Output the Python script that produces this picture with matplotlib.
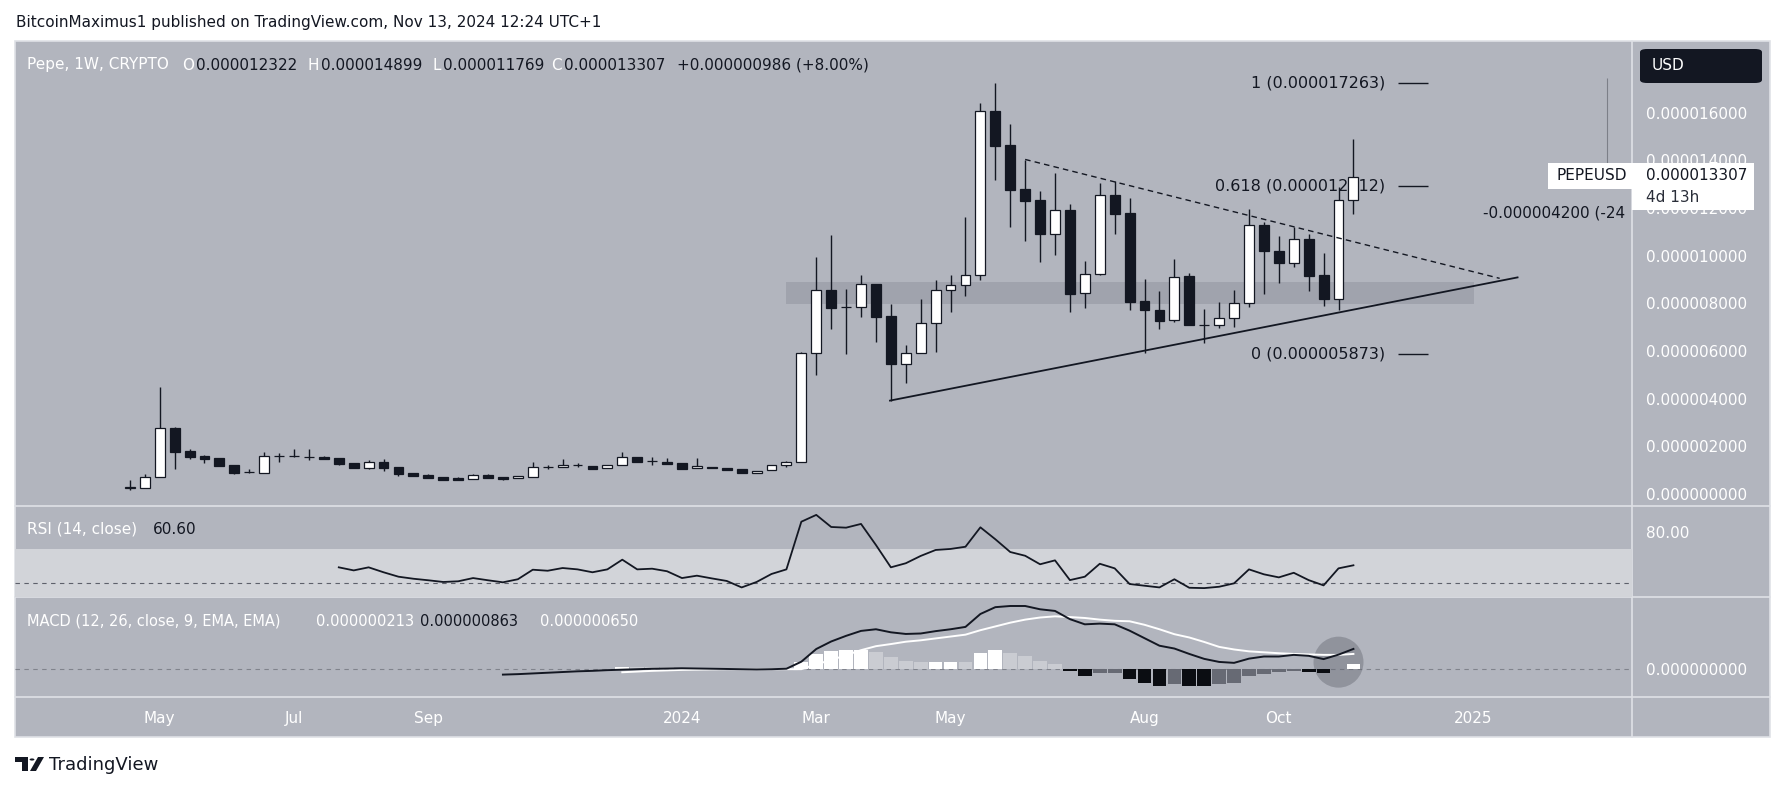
import numpy as np
import matplotlib
matplotlib.use("Agg")
import matplotlib.pyplot as plt
from matplotlib.patches import Rectangle, Ellipse, FancyBboxPatch, Polygon, Circle
from matplotlib.lines import Line2D

W, H = 1785, 791

# weekly candles, x = week index counted from the week of Jan 1 2024, prices in 1e-6 USD
weeks = np.arange(-37, 46)
opens = [0.27, 0.27, 0.70, 2.76, 1.80, 1.59, 1.50, 1.22, 0.91, 0.90,
         1.58, 1.58, 1.55, 1.54, 1.51, 1.30, 1.10, 1.34, 1.13, 0.88,
         0.80, 0.71, 0.68, 0.64, 0.78, 0.71, 0.66, 0.73, 1.12, 1.12,
         1.20, 1.17, 1.08, 1.20, 1.57, 1.38, 1.36,
         1.29, 1.08, 1.14, 1.09, 1.05, 0.87, 0.99, 1.20, 1.36, 5.90,
         8.56, 7.83, 7.83, 8.80, 7.47, 5.44, 5.93, 7.19, 8.55, 8.76,
         9.18, 16.07, 14.65, 12.79, 12.34, 10.92, 11.90, 8.42, 9.22, 12.53,
         11.78, 8.10, 7.72, 7.30, 9.15, 7.09, 7.08, 7.37, 8.00, 11.29,
         10.21, 9.68, 10.69, 9.19, 8.17, 12.322]
highs = [0.59, 0.84, 4.50, 2.80, 1.88, 1.65, 1.50, 1.22, 1.05, 1.76,
         1.72, 1.89, 1.89, 1.59, 1.51, 1.30, 1.43, 1.47, 1.13, 0.88,
         0.85, 0.71, 0.73, 0.84, 0.85, 0.71, 0.76, 1.34, 1.23, 1.47,
         1.30, 1.17, 1.20, 1.75, 1.57, 1.57, 1.51,
         1.29, 1.51, 1.14, 1.09, 1.05, 0.98, 1.20, 1.40, 5.95, 9.96,
         10.87, 8.60, 9.19, 8.80, 7.96, 6.25, 8.17, 8.98, 9.19, 11.64,
         16.42, 17.26, 15.53, 14.02, 12.73, 13.46, 12.17, 9.78, 13.04, 13.15,
         12.41, 9.01, 8.52, 9.85, 9.26, 7.76, 8.04, 8.56, 11.95, 11.42,
         10.83, 11.22, 10.91, 10.13, 12.87, 14.899]
lows = [0.17, 0.25, 0.70, 1.04, 1.48, 1.31, 1.19, 0.86, 0.87, 0.90,
        1.36, 1.54, 1.43, 1.48, 1.23, 1.10, 1.05, 0.98, 0.77, 0.77,
        0.69, 0.60, 0.60, 0.64, 0.69, 0.60, 0.66, 0.73, 1.04, 1.12,
        1.12, 1.06, 1.08, 1.20, 1.33, 1.20, 1.28,
        1.06, 1.08, 1.09, 0.99, 0.87, 0.87, 0.99, 1.15, 1.36, 4.99,
        6.91, 5.86, 7.41, 6.39, 3.92, 4.64, 5.93, 5.97, 7.62, 8.31,
        8.98, 13.18, 11.22, 10.62, 9.75, 10.03, 7.65, 7.79, 9.20, 10.90,
        7.72, 5.90, 6.91, 7.20, 7.09, 6.35, 6.98, 7.00, 7.84, 8.39,
        8.84, 9.54, 8.52, 7.89, 7.72, 11.769]
closes = [0.28, 0.70, 2.76, 1.78, 1.57, 1.48, 1.19, 0.90, 0.92, 1.58,
          1.58, 1.59, 1.54, 1.48, 1.27, 1.10, 1.34, 1.10, 0.85, 0.77,
          0.69, 0.60, 0.60, 0.78, 0.69, 0.64, 0.76, 1.12, 1.13, 1.20,
          1.20, 1.06, 1.20, 1.57, 1.33, 1.38, 1.28,
          1.06, 1.16, 1.09, 0.99, 0.87, 0.98, 1.20, 1.36, 5.90, 8.56,
          7.82, 7.84, 8.80, 7.44, 5.44, 5.93, 7.19, 8.56, 8.76, 9.18,
          16.07, 14.62, 12.76, 12.31, 10.92, 11.90, 8.41, 9.22, 12.53, 11.76,
          8.07, 7.71, 7.27, 9.12, 7.09, 7.10, 7.37, 8.00, 11.29, 10.21,
          9.68, 10.69, 9.16, 8.17, 12.32, 13.307]

rsi_weeks = np.arange(-23, 46)
rsi = [59.4, 57.6, 59.4, 56.5, 53.9, 52.7, 51.8, 50.8, 51.2, 53.1,
       51.8, 50.6, 52.4, 58.0, 57.4, 59.0, 58.2, 56.5, 58.2, 63.9,
       58.2, 58.6, 57.1, 53.1, 54.5, 52.9, 51.4, 47.6, 50.8, 55.5,
       58.2, 86.2, 90.2, 83.1, 82.7, 84.9, 72.5, 59.4, 61.8, 66.1,
       69.6, 70.2, 71.5, 82.9, 75.9, 68.4, 66.2, 61.2, 63.5, 51.9,
       53.9, 61.5, 58.8, 49.6, 48.6, 47.6, 52.4, 47.4, 47.2, 48.0,
       50.0, 58.2, 55.3, 53.5, 56.2, 51.9, 48.8, 58.8, 60.6]

macd_weeks = np.arange(-12, 46)
macd_line = [-0.23, -0.21, -0.18, -0.15, -0.12, -0.09, -0.07, -0.04, -0.02, 0.00,
             0.02, 0.03, 0.04, 0.03, 0.02, 0.01, 0.00, -0.01, 0.00, 0.02,
             0.32, 0.86, 1.18, 1.42, 1.63, 1.70, 1.57, 1.50, 1.52, 1.62,
             1.70, 1.80, 2.35, 2.64, 2.69, 2.69, 2.55, 2.48, 2.13, 1.91,
             1.94, 1.91, 1.64, 1.32, 1.00, 0.88, 0.65, 0.44, 0.31, 0.27,
             0.45, 0.54, 0.54, 0.61, 0.57, 0.43, 0.62, 0.863]
signal_weeks = np.arange(-4, 46)
signal_line = [-0.13, -0.10, -0.07, -0.05, -0.03, -0.02, -0.01, 0.00, 0.00, 0.00,
               0.00, 0.00, 0.00, 0.21, 0.39, 0.60, 0.81, 0.98, 1.07, 1.17,
               1.23, 1.31, 1.39, 1.47, 1.66, 1.82, 1.98, 2.11, 2.20, 2.25,
               2.22, 2.18, 2.11, 2.06, 2.04, 1.89, 1.70, 1.49, 1.35, 1.16,
               0.95, 0.84, 0.76, 0.72, 0.68, 0.65, 0.63, 0.61, 0.61, 0.65]
hist = [0.11, 0.10, 0.09, 0.08, 0.07, 0.05, 0.03, 0.01, 0.00, -0.01,
        0.00, 0.02, 0.32, 0.65, 0.79, 0.82, 0.83, 0.72, 0.50, 0.33,
        0.29, 0.30, 0.32, 0.31, 0.69, 0.82, 0.71, 0.58, 0.35, 0.23,
        -0.09, -0.27, -0.17, -0.15, -0.40, -0.57, -0.70, -0.61, -0.70, -0.72,
        -0.64, -0.57, -0.31, -0.20, -0.14, -0.07, -0.11, -0.18, 0.03, 0.213]

month_pos = [-35, -26, -17, 0, 9, 18, 31, 40, 53]
month_lbl = ["May", "Jul", "Sep", "2024", "Mar", "May", "Aug", "Oct", "2025"]
price_ticks = [0, 2, 4, 6, 8, 10, 12, 14, 16]

fib_levels = [1, 0.618, 0]
fib_prices = [17.263, 12.912, 5.873]
zone_w = (7.0, 53.1)
zone_p = (7.99, 8.88)
support_w, support_p = [13.94, 56.0], [3.92, 9.09]
resist_w, resist_p = [23.0, 54.8], [14.04, 9.05]
measure_w, measure_p = 62.0, (13.26, 17.46)

BG = "#b2b5be"
SEP = "#dfe1e6"
INK = "#131722"
FS = 11

plt.rcParams["font.family"] = ["DejaVu Sans"]

fig = plt.figure(figsize=(W / 100, H / 100), dpi=100, facecolor="white")


def box(x0, y0, x1, y1):
    return [x0 / W, 1 - y1 / H, (x1 - x0) / W, (y1 - y0) / H]


def fline(xs, ys, **kw):
    fig.add_artist(Line2D([x / W for x in xs], [1 - y / H for y in ys],
                          transform=fig.transFigure, **kw))


def ftext(x, y, s, **kw):
    kw.setdefault("fontsize", FS)
    fig.text(x / W, 1 - y / H, s, va="center", **kw)


# gray frame and separators
fig.add_artist(Rectangle((15 / W, 1 - 737.3 / H), 1755 / W, 696.3 / H,
                         transform=fig.transFigure, fc=BG, ec=SEP, lw=1.2, zorder=-10))
for yy in (505.7, 597.3, 696.7):
    fline([15, 1770], [yy, yy], color=SEP, lw=1.2, zorder=-5)
fline([1632, 1632], [41, 737.3], color=SEP, lw=1.2, zorder=-5)

ax = fig.add_axes(box(15, 41, 1632, 505.7))
ax_rsi = fig.add_axes(box(15, 505.7, 1632, 597.3))
ax_macd = fig.add_axes(box(15, 597.3, 1632, 696.7))

for a in (ax, ax_rsi, ax_macd):
    a.set_facecolor("none")
    for s in a.spines.values():
        s.set_visible(False)
    a.set_xlim(-44.7, 63.67)
    a.yaxis.tick_right()
    a.tick_params(axis="y", length=0, pad=10, labelsize=FS, labelcolor="white")
    a.tick_params(axis="x", length=0)

ax.set_xticks([])
ax_rsi.set_xticks([])

# ---- price panel
ax.set_ylim(-0.49, 19.01)
ax.set_yticks(price_ticks)
ax.set_yticklabels([f"{v / 1e6:.9f}" for v in price_ticks])

o, h, l, c = map(np.array, (opens, highs, lows, closes))
up = c >= o
ax.add_patch(Rectangle((zone_w[0], zone_p[0]), zone_w[1] - zone_w[0], zone_p[1] - zone_p[0],
                       fc="#787b86", alpha=0.3, lw=0, zorder=1))
ax.vlines(weeks, l, h, color=INK, lw=1, zorder=2)
ax.bar(weeks[up], (c - o)[up], bottom=o[up], width=0.66, color="white",
       edgecolor=INK, lw=0.9, zorder=3)
ax.bar(weeks[~up], (o - c)[~up], bottom=c[~up], width=0.66, color=INK,
       edgecolor=INK, lw=0.9, zorder=3)

ax.plot(support_w, support_p, color=INK, lw=1.3, zorder=4)
ax.plot(resist_w, resist_p, color=INK, lw=1, ls=(0, (4, 3)), zorder=4)

ax.hlines(fib_prices, 48.0, 50.0, color=INK, lw=1, zorder=2)
for lvl, p in zip(fib_levels, fib_prices):
    ax.text(47.1, p, f"{lvl:g} ({p / 1e6:.9f})", ha="right", va="center",
            fontsize=11.5, color=INK, zorder=1)

# measuring tool, its label is cut by the price scale
ax.vlines(measure_w, *measure_p, color="#7c7f88", lw=0.8, zorder=2)
ax.text(53.7, 11.78, "-0.000004200 (-24", ha="left", va="center",
        fontsize=11, color=INK, clip_on=True)

# ---- RSI panel
ax_rsi.set_ylim(41.8, 95.6)
ax_rsi.axhspan(30, 70, color="#d2d4d9", lw=0, zorder=0)
ax_rsi.axhline(50, color="#5d606b", lw=0.8, ls=(0, (4, 4)), zorder=1)
ax_rsi.plot(rsi_weeks, rsi, color=INK, lw=1.3, zorder=3)
ax_rsi.set_yticks([80])
ax_rsi.set_yticklabels(["80.00"])

# ---- MACD panel
ax_macd.set_ylim(-1.17, 3.06)
ax_macd.axhline(0, color="#80838c", lw=0.8, ls=(0, (4, 4)), zorder=0.5)
ax_macd.add_patch(Ellipse((44.0, 0.30), 3.35, 2.17, fc="#5d606b", alpha=0.4, lw=0, zorder=1))
hv = np.array(hist)
prev = np.r_[hv[0], hv[:-1]]
cols = np.where(hv >= 0, np.where(hv >= prev, "#ffffff", "#caccd2"),
                np.where(hv < prev, "#0b0d12", "#676a74"))
ax_macd.bar(signal_weeks, hv, width=0.92, color=cols, lw=0, zorder=2)
ax_macd.plot(macd_weeks, macd_line, color=INK, lw=1.4, zorder=4)
ax_macd.plot(signal_weeks, signal_line, color="white", lw=1.4, zorder=3)
ax_macd.set_yticks([0])
ax_macd.set_yticklabels(["0.000000000"])
ax_macd.set_xticks(month_pos)
ax_macd.set_xticklabels(month_lbl)
ax_macd.tick_params(axis="x", pad=10, labelsize=FS, labelcolor="white")

# ---- legends / header
ftext(15.5, 22, "BitcoinMaximus1 published on TradingView.com, Nov 13, 2024 12:24 UTC+1", color=INK)
legend = [(27, "Pepe, 1W, CRYPTO", "white"), (182, "O", "white"), (196, "0.000012322", INK),
          (307, "H", "white"), (321, "0.000014899", INK), (432, "L", "white"),
          (443, "0.000011769", INK), (551, "C", "white"), (564, "0.000013307", INK),
          (677, "+0.000000986 (+8.00%)", INK)]
for x, s, col in legend:
    ftext(x, 65, s, color=col)
ftext(27, 529, "RSI (14, close)", color="white")
ftext(153, 529, "60.60", color=INK)
ftext(27, 621, "MACD (12, 26, close, 9, EMA, EMA)", color="white", fontsize=10.5)
ftext(316, 621, "0.000000213", color="white", fontsize=10.5)
ftext(420, 621, "0.000000863", color=INK, fontsize=10.5)
ftext(540, 621, "0.000000650", color="white", fontsize=10.5)

# USD button
fig.add_artist(FancyBboxPatch((1640 / W, 1 - 83 / H), 122 / W, 34 / H,
                              boxstyle="round,pad=0.0,rounding_size=0.004",
                              transform=fig.transFigure, fc=INK, ec="none", zorder=5))
ftext(1652, 66, "USD", color="white", zorder=6)

# last price label
fig.add_artist(Rectangle((1548 / W, 1 - 189.3 / H), 84 / W, 26.6 / H,
                         transform=fig.transFigure, fc="white", ec="none", zorder=5))
fig.add_artist(Rectangle((1632 / W, 1 - 210 / H), 122 / W, 47.3 / H,
                         transform=fig.transFigure, fc="white", ec="none", zorder=5))
ftext(1556, 176, "PEPEUSD", color=INK, zorder=6)
ftext(1646, 176, "0.000013307", color=INK, zorder=6)
ftext(1646, 198, "4d 13h", color="#2a2e39", zorder=6)

# TradingView logo
fig.add_artist(Polygon([(15 / W, 1 - 757 / H), (28 / W, 1 - 757 / H), (28 / W, 1 - 771 / H),
                        (22 / W, 1 - 771 / H), (22 / W, 1 - 762 / H), (15 / W, 1 - 762 / H)],
                       closed=True, transform=fig.transFigure, fc=INK, ec="none"))
fig.add_artist(Circle((32 / W, 1 - 759.5 / H), 2.4 / W, transform=fig.transFigure, fc=INK, ec="none"))
fig.add_artist(Polygon([(30 / W, 1 - 771 / H), (36 / W, 1 - 771 / H), (44 / W, 1 - 757 / H),
                        (38 / W, 1 - 757 / H)],
                       closed=True, transform=fig.transFigure, fc=INK, ec="none"))
ftext(49, 765, "TradingView", color=INK, fontsize=13)

fig.savefig("out.png", dpi=100, facecolor="white")
